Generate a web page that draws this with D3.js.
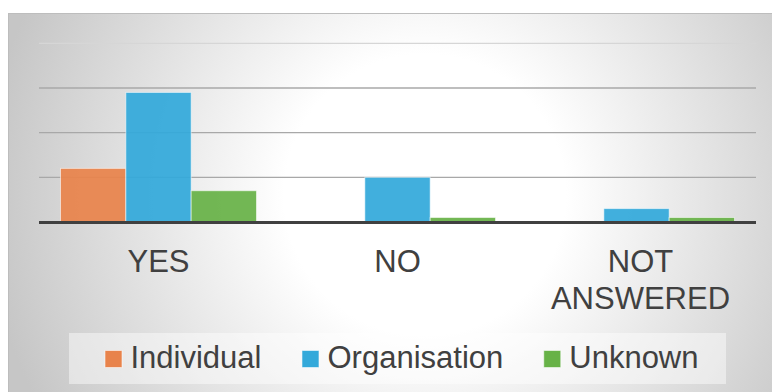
<html>
<head>
<script src="https://d3js.org/d3.v7.min.js"></script>
<style>
  body { margin: 0; background: #fff; }
  text { font-family: "Liberation Sans", Arial, sans-serif; fill: #404040; }
</style>
</head>
<body>
<script>
    // categories and series
    let categories = ["YES", "NO", "NOT ANSWERED"];
    let series = ["Individual", "Organisation", "Unknown"];
    let individual = [24, 0, 0];
    let organisation = [58, 20, 6];
    let unknown = [14, 2, 2];
    let ticks = [0, 20, 40, 60, 80];
    let colors = ["#e8834b", "#33a9da", "#67b247"];

    let allValues = [individual, organisation, unknown];

    let W = 772, H = 392;
    let svg = d3.select("body").append("svg")
        .attr("width", W)
        .attr("height", H);

    // background with radial shading
    let defs = svg.append("defs");
    let grad = defs.append("radialGradient")
        .attr("id", "bg")
        .attr("gradientUnits", "userSpaceOnUse")
        .attr("cx", 425).attr("cy", 195).attr("r", 440);
    grad.append("stop").attr("offset", 0).attr("stop-color", "#ffffff");
    grad.append("stop").attr("offset", 0.32).attr("stop-color", "#ffffff");
    grad.append("stop").attr("offset", 1).attr("stop-color", "#c6c6c6");

    svg.append("rect")
        .attr("x", 8.5).attr("y", 13.5)
        .attr("width", W).attr("height", H)
        .attr("fill", "url(#bg)")
        .attr("stroke", "#bdbdbd")
        .attr("stroke-width", 1);

    let plotLeft = 39, plotRight = 756, plotTop = 43.3, plotBase = 222;

    let x0 = d3.scaleBand()
        .domain(categories)
        .range([plotLeft, plotRight])
        .paddingInner(0.18)
        .paddingOuter(0.09);

    let x1 = d3.scaleBand()
        .domain(series)
        .range([0, x0.bandwidth()]);

    let y = d3.scaleLinear()
        .domain([0, 80])
        .range([plotBase, plotTop]);

    // gridlines
    svg.append("g").selectAll("line")
        .data(ticks.filter(t => t > 0))
        .join("line")
        .attr("x1", plotLeft).attr("x2", plotRight)
        .attr("y1", d => y(d)).attr("y2", d => y(d))
        .attr("stroke", d => d === 80 ? "#d6d6d6" : "#a8a8a8")
        .attr("stroke-width", 1.3);

    // bars
    series.forEach((s, si) => {
        svg.append("g").selectAll("rect")
            .data(categories.map((c, ci) => ({c: c, v: allValues[si][ci]})).filter(d => d.v > 0))
            .join("rect")
            .attr("x", d => x0(d.c) + x1(s))
            .attr("y", d => y(d.v))
            .attr("width", x1.bandwidth())
            .attr("height", d => plotBase - y(d.v))
            .attr("fill", colors[si])
            .attr("fill-opacity", 0.93)
            .attr("stroke", "rgba(255,255,255,0.55)")
            .attr("stroke-width", 1);
    });

    // axis line
    svg.append("line")
        .attr("x1", plotLeft).attr("x2", plotRight)
        .attr("y1", plotBase + 0.5).attr("y2", plotBase + 0.5)
        .attr("stroke", "#404040")
        .attr("stroke-width", 3);

    // category labels
    categories.forEach(c => {
        let words = c === "NOT ANSWERED" ? ["NOT", "ANSWERED"] : [c];
        words.forEach((w, i) => {
            svg.append("text")
                .attr("x", x0(c) + x0.bandwidth() / 2 + (words.length > 1 ? 4 : 0))
                .attr("y", 272 + i * 36.5)
                .attr("text-anchor", "middle")
                .style("font-size", "31px")
                .text(w);
        });
    });

    // legend
    svg.append("rect")
        .attr("x", 69).attr("y", 333)
        .attr("width", 657).attr("height", 51)
        .attr("fill", "rgba(255,255,255,0.45)");

    let lg = svg.append("g");
    let xpos = 0;
    series.forEach((s, i) => {
        let g = lg.append("g").attr("transform", "translate(" + xpos + ",0)");
        g.append("rect")
            .attr("x", 0.5).attr("y", 350.5)
            .attr("width", 17).attr("height", 17)
            .attr("fill", colors[i])
            .attr("stroke", "rgba(255,255,255,0.55)");
        let t = g.append("text")
            .attr("x", 26).attr("y", 368)
            .style("font-size", "31px")
            .text(s);
        xpos += 26 + t.node().getComputedTextLength() + 40;
    });
    let lw = xpos - 40;
    lg.attr("transform", "translate(" + (401.5 - lw / 2) + ",0)");
</script>
</body>
</html>
